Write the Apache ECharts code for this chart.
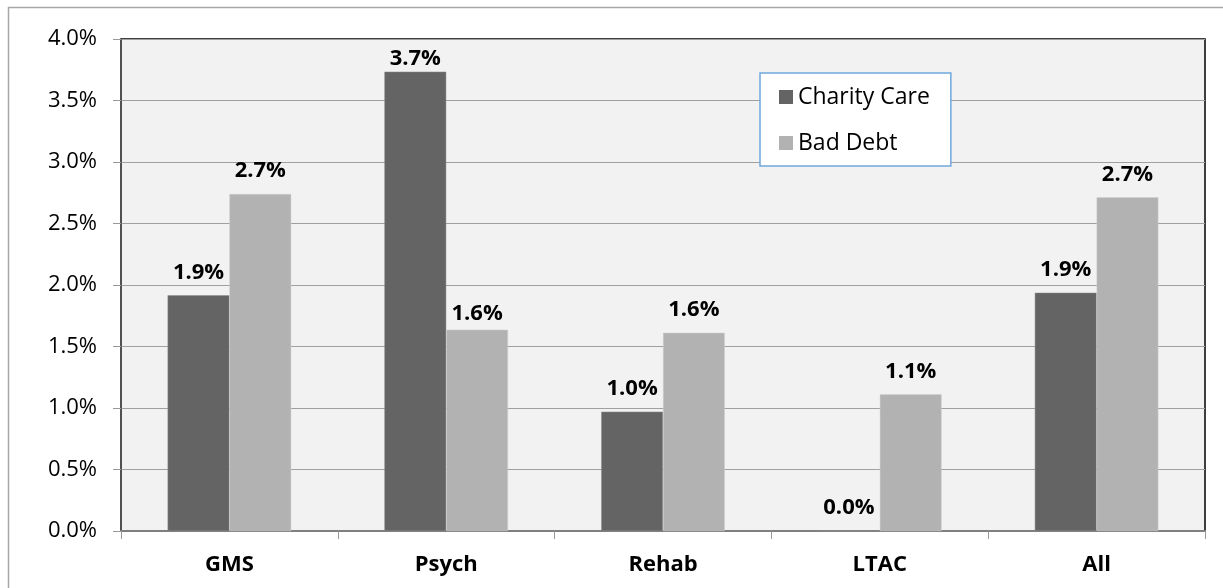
<!DOCTYPE html>
<html>
<head>
<meta charset="utf-8">
<script src="https://cdn.jsdelivr.net/npm/echarts@6/dist/echarts.min.js"></script>
<style>
html,body{margin:0;padding:0;background:#fff;}
#chart{width:1223px;height:588px;}
</style>
</head>
<body>
<div id="chart"></div>
<script>
const categories = ['GMS', 'Psych', 'Rehab', 'LTAC', 'All'];
const charityCare = [1.916, 3.734, 0.970, 0.0, 1.937];
const badDebt = [2.740, 1.637, 1.612, 1.111, 2.713];
const seriesNames = ['Charity Care', 'Bad Debt'];
// per-point label offsets above the bar (px)
const charityLabelDist = [12, 2, 12, 12, 12];
const badDebtLabelDist = [12, 5, 12, 12, 12];

const FONT = '"Open Sans", "Noto Sans", sans-serif';
const chart = echarts.init(document.getElementById('chart'), null, {renderer: 'canvas'});

const labelCfg = {
  show: true,
  position: 'top',
  fontFamily: FONT,
  fontSize: 22,
  fontWeight: 'bold',
  color: '#000',
  formatter: p => p.value.toFixed(1) + '%'
};
const toData = (vals, dists) => vals.map((v, i) => ({value: v, label: {distance: dists[i]}}));

chart.setOption({
  animation: false,
  backgroundColor: '#fff',
  grid: {
    left: 121, right: 18, top: 39, bottom: 57,
    show: true,
    backgroundColor: '#f2f2f2',
    borderColor: '#000',
    borderWidth: 1.5
  },
  legend: {
    orient: 'vertical',
    left: 760, top: 73,
    backgroundColor: '#fff',
    borderColor: '#6fa8dc',
    borderWidth: 1.5,
    borderRadius: 0,
    padding: [9, 21, 8, 19],
    itemGap: 16,
    icon: 'rect',
    itemWidth: 14, itemHeight: 14,
    itemStyle: {borderWidth: 0},
    textStyle: {fontFamily: FONT, fontSize: 23, color: '#000', lineHeight: 30},
    data: seriesNames
  },
  xAxis: {
    type: 'category',
    data: categories,
    axisLine: {lineStyle: {color: '#7f7f7f', width: 2}},
    axisTick: {show: true, length: 8, lineStyle: {color: '#999', width: 1}},
    axisLabel: {fontFamily: FONT, fontSize: 22, fontWeight: 'bold', color: '#000', margin: 23},
    splitLine: {show: false}
  },
  yAxis: {
    type: 'value',
    min: 0, max: 4, interval: 0.5,
    axisLine: {show: true, lineStyle: {color: '#595959', width: 1.5}},
    axisTick: {show: true, length: 8, lineStyle: {color: '#999', width: 1}},
    axisLabel: {fontFamily: FONT, fontSize: 22, color: '#000', margin: 24,
      formatter: v => v.toFixed(1) + '%'},
    splitLine: {show: true, lineStyle: {color: '#a0a0a0', width: 1}}
  },
  series: [
    {
      name: seriesNames[0], type: 'bar', data: toData(charityCare, charityLabelDist),
      barGap: '0%', barCategoryGap: '43%',
      itemStyle: {color: '#646464', borderColor: '#8a8a8a', borderWidth: 0.5},
      label: labelCfg
    },
    {
      name: seriesNames[1], type: 'bar', data: toData(badDebt, badDebtLabelDist),
      barGap: '0%', barCategoryGap: '43%',
      itemStyle: {color: '#b2b2b2', borderColor: '#d0d0d0', borderWidth: 0.5},
      label: labelCfg
    }
  ],
  graphic: [
    {type: 'line', shape: {x1: 8, y1: 7.5, x2: 1223, y2: 7.5}, style: {stroke: '#a6a6a6', lineWidth: 1.5}, silent: true},
    {type: 'line', shape: {x1: 8.5, y1: 7, x2: 8.5, y2: 588}, style: {stroke: '#a6a6a6', lineWidth: 1.5}, silent: true}
  ]
});
</script>
</body>
</html>
